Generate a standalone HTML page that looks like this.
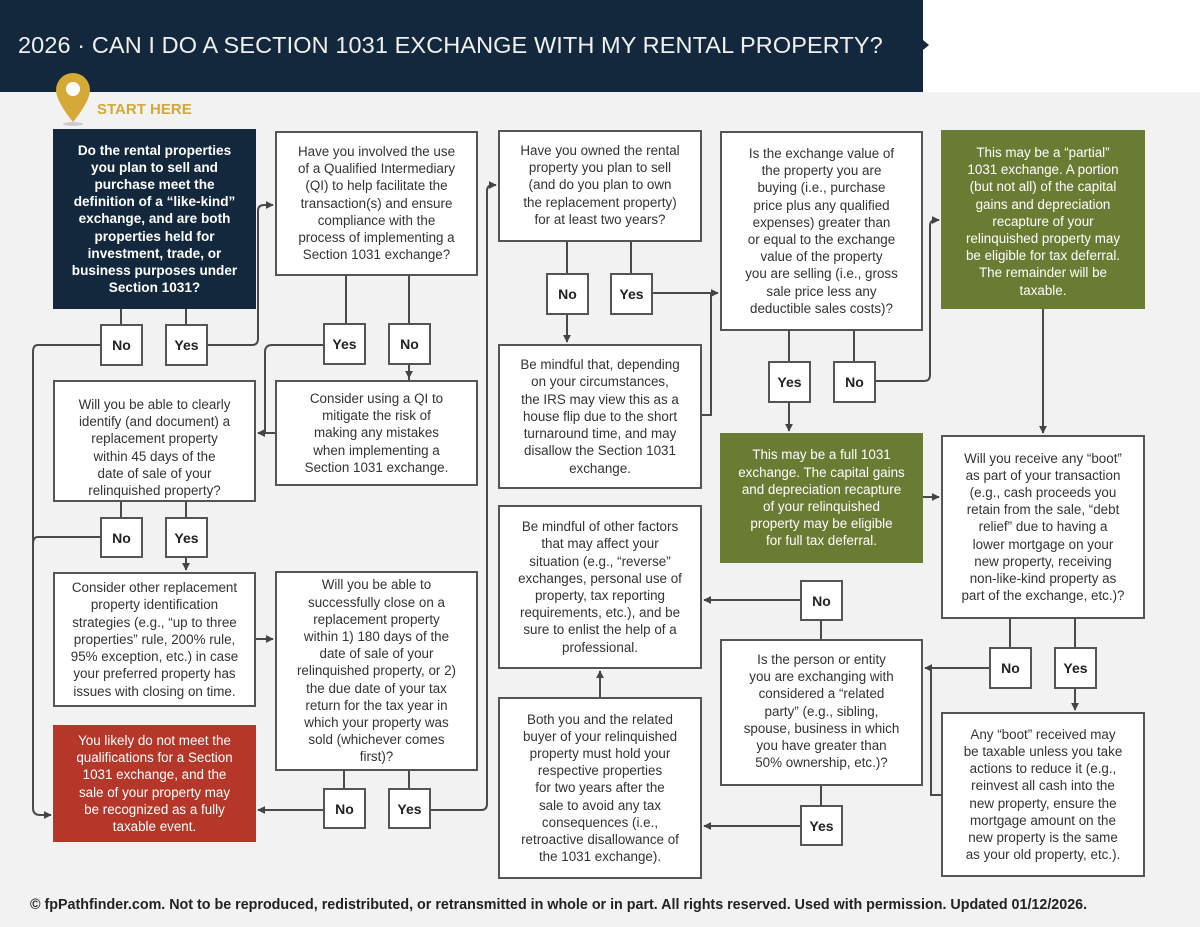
<!DOCTYPE html>
<html><head><meta charset="utf-8"><style>
*{margin:0;padding:0;box-sizing:border-box}
body{width:1200px;height:927px;background:#f2f2f2;font-family:"Liberation Sans",sans-serif;position:relative;overflow:hidden}
.hdr{position:absolute;left:0;top:0;width:923px;height:92px;background:#13283d}
.wh{position:absolute;left:923px;top:0;width:277px;height:92px;background:#fff}
.title{position:absolute;left:18px;top:32px;color:#f0f0f0;font-size:23.5px;letter-spacing:0.1px;white-space:nowrap}
.b{position:absolute;background:#fff;border:2px solid #555;color:#333;font-size:13.4px;line-height:17.2px;text-align:center;white-space:nowrap;display:flex;align-items:center;justify-content:center}
.b.t{align-items:flex-start;padding-top:10px}
.d{background:#13283d;border:none;color:#fff;font-weight:bold;font-size:13.6px}
.g{background:#6a7b33;border:none;color:#fff}
.r{background:#b5372a;border:none;color:#fff}
.s{position:absolute;width:43px;height:42px;background:#fff;border:2px solid #555;font-weight:bold;font-size:14px;color:#222;display:flex;align-items:center;justify-content:center}
svg{position:absolute;left:0;top:0}
</style></head><body>
<div class="hdr"></div><div class="wh"></div>
<div class="title">2026 · CAN I DO A SECTION 1031 EXCHANGE WITH MY RENTAL PROPERTY?</div>
<svg width="1200" height="927">
<defs><marker id="a" viewBox="0 0 10 10" refX="9" refY="5" markerWidth="4" markerHeight="4" orient="auto"><path d="M0,0L10,5L0,10z" fill="#444"/></marker></defs>
<path d="M923,40 L929,45 L923,50z" fill="#13283d"/>
<path d="M73,73 a17,17 0 0 1 17,17 c0,12 -17,32 -17,32 c0,0 -17,-20 -17,-32 a17,17 0 0 1 17,-17z" fill="#d4a935"/>
<circle cx="73" cy="89" r="7" fill="#fff"/>
<ellipse cx="73" cy="124" rx="10" ry="2" fill="#ccc"/>
<g fill="none" stroke="#4a4a4a" stroke-width="2">
<path d="M121,309V324M186,309V324M346,276V323M409,276V380" />
<path d="M409,366V378" marker-end="url(#a)"/>
<path d="M100,345H38Q33,345 33,352V808Q33,815 40,815H51" marker-end="url(#a)"/>
<path d="M207,345H252Q258,345 258,339V211Q258,205 264,205H273" marker-end="url(#a)"/>
<path d="M323,345H272Q265,345 265,352V433H258" marker-end="url(#a)"/>
<path d="M275,433H258" marker-end="url(#a)"/>
<path d="M121,502V517M186,502V517"/>
<path d="M100,537H38Q33,537 33,544"/>
<path d="M186,558V570" marker-end="url(#a)"/>
<path d="M256,639H273" marker-end="url(#a)"/>
<path d="M344,771V789M409,771V789"/>
<path d="M323,810H258" marker-end="url(#a)"/>
<path d="M431,810H481Q487,810 487,804V191Q487,185 493,185H496" marker-end="url(#a)"/>
<path d="M567,242V273M631,242V273"/>
<path d="M567,315V342" marker-end="url(#a)"/>
<path d="M653,293H718" marker-end="url(#a)"/>
<path d="M702,415H711V293"/>
<path d="M789,331V361M854,331V361"/>
<path d="M789,403V431" marker-end="url(#a)"/>
<path d="M875,381H924Q930,381 930,375V226Q930,220 936,220H939" marker-end="url(#a)"/>
<path d="M1043,309V433" marker-end="url(#a)"/>
<path d="M923,497H939" marker-end="url(#a)"/>
<path d="M1010,619V647M1075,619V647"/>
<path d="M1075,689V710" marker-end="url(#a)"/>
<path d="M989,668H925" marker-end="url(#a)"/>
<path d="M936,668H931V795H941"/>
<path d="M821,639V621"/>
<path d="M800,600H704" marker-end="url(#a)"/>
<path d="M821,786V805"/>
<path d="M800,826H704" marker-end="url(#a)"/>
<path d="M600,697V671" marker-end="url(#a)"/>
</g>
</svg>
<div style="position:absolute;left:97px;top:101px;color:#d4a935;font-weight:bold;font-size:15px">START HERE</div>

<div class="b d" style="left:53px;top:129px;width:203px;height:180px">Do the rental properties<br>you plan to sell and<br>purchase meet the<br>definition of a “like-kind”<br>exchange, and are both<br>properties held for<br>investment, trade, or<br>business purposes under<br>Section 1031?</div>
<div class="b t" style="left:275px;top:131px;width:203px;height:145px">Have you involved the use<br>of a Qualified Intermediary<br>(QI) to help facilitate the<br>transaction(s) and ensure<br>compliance with the<br>process of implementing a<br>Section 1031 exchange?</div>
<div class="s" style="left:100px;top:324px">No</div><div class="s" style="left:165px;top:324px">Yes</div>
<div class="s" style="left:323px;top:323px">Yes</div><div class="s" style="left:388px;top:323px">No</div>
<div class="b t" style="left:53px;top:380px;width:203px;height:122px;padding-top:14px">Will you be able to clearly<br>identify (and document) a<br>replacement property<br>within 45 days of the<br>date of sale of your<br>relinquished property?</div>
<div class="b" style="left:275px;top:380px;width:203px;height:106px">Consider using a QI to<br>mitigate the risk of<br>making any mistakes<br>when implementing a<br>Section 1031 exchange.</div>
<div class="s" style="left:100px;top:517px;height:41px">No</div><div class="s" style="left:165px;top:517px;height:41px">Yes</div>
<div class="b" style="left:53px;top:572px;width:203px;height:135px">Consider other replacement<br>property identification<br>strategies (e.g., “up to three<br>properties” rule, 200% rule,<br>95% exception, etc.) in case<br>your preferred property has<br>issues with closing on time.</div>
<div class="b" style="left:275px;top:571px;width:203px;height:200px">Will you be able to<br>successfully close on a<br>replacement property<br>within 1) 180 days of the<br>date of sale of your<br>relinquished property, or 2)<br>the due date of your tax<br>return for the tax year in<br>which your property was<br>sold (whichever comes<br>first)?</div>
<div class="b r" style="left:53px;top:725px;width:203px;height:117px">You likely do not meet the<br>qualifications for a Section<br>1031 exchange, and the<br>sale of your property may<br>be recognized as a fully<br>taxable event.</div>
<div class="s" style="left:323px;top:788px;height:41px">No</div><div class="s" style="left:388px;top:788px;height:41px">Yes</div>

<div class="b t" style="left:498px;top:130px;width:204px;height:112px">Have you owned the rental<br>property you plan to sell<br>(and do you plan to own<br>the replacement property)<br>for at least two years?</div>
<div class="s" style="left:546px;top:273px">No</div><div class="s" style="left:610px;top:273px">Yes</div>
<div class="b" style="left:498px;top:344px;width:204px;height:145px">Be mindful that, depending<br>on your circumstances,<br>the IRS may view this as a<br>house flip due to the short<br>turnaround time, and may<br>disallow the Section 1031<br>exchange.</div>
<div class="b" style="left:498px;top:505px;width:204px;height:164px">Be mindful of other factors<br>that may affect your<br>situation (e.g., “reverse”<br>exchanges, personal use of<br>property, tax reporting<br>requirements, etc.), and be<br>sure to enlist the help of a<br>professional.</div>
<div class="b" style="left:498px;top:697px;width:204px;height:182px">Both you and the related<br>buyer of your relinquished<br>property must hold your<br>respective properties<br>for two years after the<br>sale to avoid any tax<br>consequences (i.e.,<br>retroactive disallowance of<br>the 1031 exchange).</div>

<div class="b" style="left:720px;top:131px;width:203px;height:200px">Is the exchange value of<br>the property you are<br>buying (i.e., purchase<br>price plus any qualified<br>expenses) greater than<br>or equal to the exchange<br>value of the property<br>you are selling (i.e., gross<br>sale price less any<br>deductible sales costs)?</div>
<div class="s" style="left:768px;top:361px">Yes</div><div class="s" style="left:833px;top:361px">No</div>
<div class="b g" style="left:720px;top:433px;width:203px;height:130px">This may be a full 1031<br>exchange. The capital gains<br>and depreciation recapture<br>of your relinquished<br>property may be eligible<br>for full tax deferral.</div>
<div class="s" style="left:800px;top:580px;height:41px">No</div>
<div class="b t" style="left:720px;top:639px;width:203px;height:147px">Is the person or entity<br>you are exchanging with<br>considered a “related<br>party” (e.g., sibling,<br>spouse, business in which<br>you have greater than<br>50% ownership, etc.)?</div>
<div class="s" style="left:800px;top:805px;height:41px">Yes</div>

<div class="b g t" style="left:941px;top:130px;width:204px;height:179px;padding-top:14px">This may be a “partial”<br>1031 exchange. A portion<br>(but not all) of the capital<br>gains and depreciation<br>recapture of your<br>relinquished property may<br>be eligible for tax deferral.<br>The remainder will be<br>taxable.</div>
<div class="b" style="left:941px;top:435px;width:204px;height:184px">Will you receive any “boot”<br>as part of your transaction<br>(e.g., cash proceeds you<br>retain from the sale, “debt<br>relief” due to having a<br>lower mortgage on your<br>new property, receiving<br>non-like-kind property as<br>part of the exchange, etc.)?</div>
<div class="s" style="left:989px;top:647px">No</div><div class="s" style="left:1054px;top:647px">Yes</div>
<div class="b" style="left:941px;top:712px;width:204px;height:165px">Any “boot” received may<br>be taxable unless you take<br>actions to reduce it (e.g.,<br>reinvest all cash into the<br>new property, ensure the<br>mortgage amount on the<br>new property is the same<br>as your old property, etc.).</div>

<div style="position:absolute;left:30px;top:897px;font-size:14.3px;font-weight:bold;color:#222;white-space:nowrap">© fpPathfinder.com. Not to be reproduced, redistributed, or retransmitted in whole or in part. All rights reserved. Used with permission. Updated 01/12/2026.</div>
</body></html>
